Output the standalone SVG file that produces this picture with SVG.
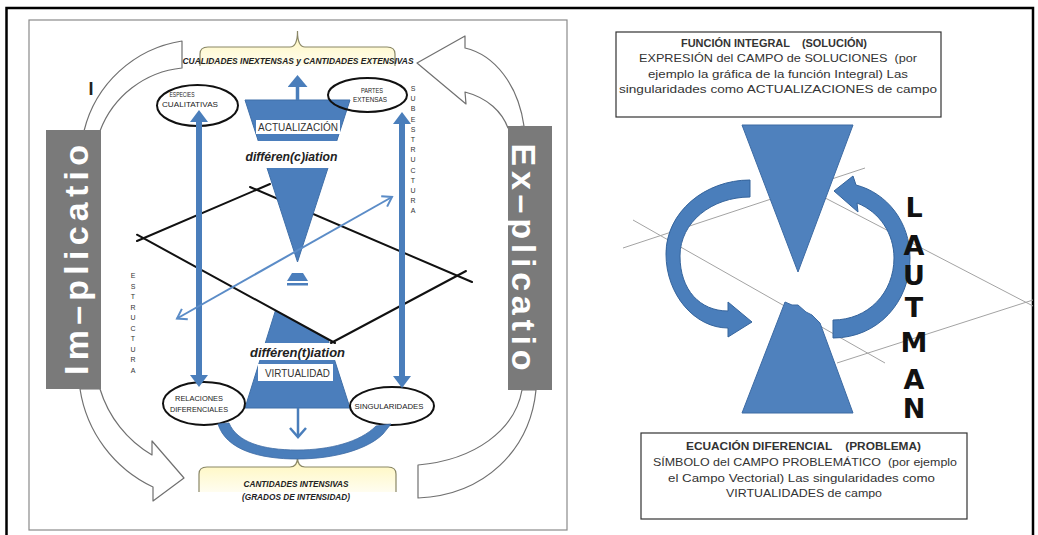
<svg xmlns="http://www.w3.org/2000/svg" width="1038" height="535" viewBox="0 0 1038 535">
  <defs>
    <style>
      .sans { font-family: "Liberation Sans", Arial, sans-serif; }
      .lbl { font-family: "Liberation Sans", Arial, sans-serif; font-size: 8px; fill: #222; text-anchor: middle; }
      .brace-txt { font-family: "Liberation Sans", Arial, sans-serif; font-weight: bold; font-style: italic; font-size: 8.5px; fill: #222; text-anchor: middle; }
      .oval { fill: none; stroke: #111; stroke-width: 2; }
      .funnel { fill: #4b7ebc; stroke: #3f6fa8; stroke-width: 1; }
      .band { fill: #fff; }
      .band-txt { font-family: "Liberation Sans", Arial, sans-serif; font-size: 11px; fill: #333; text-anchor: middle; }
      .diff { font-family: "Liberation Sans", Arial, sans-serif; font-size: 12.5px; font-weight: bold; font-style: italic; fill: #222; text-anchor: middle; }
      .gbox { fill: #7a7a7a; }
      .gtxt { font-family: "Liberation Sans", Arial, sans-serif; font-weight: bold; font-size: 34px; fill: #fff; text-anchor: middle; }
      .hollow { fill: #fff; stroke: #707070; stroke-width: 1.2; stroke-linejoin: round; }
      .brace { fill: url(#cream); stroke: #8a8766; stroke-width: 1.2; }
      .vert { font-family: "Liberation Sans", Arial, sans-serif; font-size: 7px; fill: #333; text-anchor: middle; }
      .axis { stroke: #111; stroke-width: 2; fill: none; stroke-linecap: round; }
      .thin { stroke: #a3a3a3; stroke-width: 1; fill: none; }
      .box { fill: #fff; stroke: #333; stroke-width: 1.2; }
      .btxt { font-family: "Liberation Sans", Arial, sans-serif; font-size: 11.5px; fill: #333; text-anchor: middle; }
      .bold { font-weight: bold; }
      .tri { fill: #4f81bd; stroke: #3c6aa3; stroke-width: 1; }
      .curl { fill: #4a7ebb; stroke: #35649c; stroke-width: 1; }
      .lautman { font-family: "DejaVu Sans", sans-serif; font-weight: bold; font-size: 27px; fill: #111; text-anchor: middle; }
      .shaft { stroke: #4a7ebb; fill: none; }
    </style>
    <linearGradient id="cream" x1="0" y1="0" x2="0" y2="1">
      <stop offset="0" stop-color="#fff6b8"/>
      <stop offset="1" stop-color="#fffdf0"/>
    </linearGradient>
    <marker id="hd-thick" viewBox="0 0 12 18" refX="1" refY="9" markerWidth="12" markerHeight="18" markerUnits="userSpaceOnUse" orient="auto-start-reverse">
      <path d="M0,0 L12,9 L0,18 Z" fill="#4a7ebb"/>
    </marker>
    <marker id="hd-mid" viewBox="0 0 12 20" refX="1" refY="10" markerWidth="12" markerHeight="20" markerUnits="userSpaceOnUse" orient="auto">
      <path d="M0,0 L12,10 L0,20 Z" fill="#4a7ebb"/>
    </marker>
    <marker id="hd-open" viewBox="0 0 12 18" refX="10" refY="9" markerWidth="12" markerHeight="18" markerUnits="userSpaceOnUse" orient="auto">
      <path d="M1,1 L10,9 L1,17" fill="none" stroke="#4a7ebb" stroke-width="2.5"/>
    </marker>
    <marker id="hd-open-s" viewBox="0 0 12 14" refX="10" refY="7" markerWidth="12" markerHeight="14" markerUnits="userSpaceOnUse" orient="auto-start-reverse">
      <path d="M1,1 L10,7 L1,13" fill="none" stroke="#5b8cc7" stroke-width="2"/>
    </marker>
  </defs>

  <rect width="1038" height="535" fill="#fff"/>
  <!-- outer frame -->
  <path d="M6.5,537 L6.5,8 L1033,8 L1033,537" fill="none" stroke="#000" stroke-width="2.5"/>

  <!-- ===== left panel ===== -->
  <rect x="29" y="20" width="538" height="510" fill="none" stroke="#8a8a8a" stroke-width="1.2"/>

  <!-- big hollow circulation arrows -->
  <g id="cycle-arrows">
    <path class="hollow" d="M182,41 A120,120 0 0 0 84,131 L100,131 A98,98 0 0 1 182,68 Z"/>
    <path class="hollow" d="M80,389 A130,130 0 0 0 153,487 L153,501 L184,478 L152,441 L152,455 A115,115 0 0 1 100,389 Z"/>
    <path class="hollow" d="M508,128 C502,112 488,98 465,92 L466,104 L417,63 L465,36 L465,48 C495,55 518,85 524,126 Z"/>
    <path class="hollow" d="M522,390 C515,430 475,460 418,465 L418,498 C485,495 530,450 536,390 Z"/>
  </g>

  <g id="implicatio">
    <rect class="gbox" x="46" y="130" width="55" height="259"/>
    <text class="gtxt" transform="translate(88,260) rotate(-90)" textLength="230" lengthAdjust="spacing">Im–plicatio</text>
  </g>
  <g id="explicatio">
    <rect class="gbox" x="508" y="126" width="44" height="264"/>
    <text class="gtxt" transform="translate(512,257) rotate(90)" textLength="227" lengthAdjust="spacing">Ex–plicatio</text>
  </g>

  <text class="sans" x="91" y="95" font-size="18" font-weight="bold" text-anchor="middle" fill="#222">I</text>

  <!-- upper brace -->
  <g id="cualidades">
    <path class="brace" d="M200,66 L200,54 Q200,47 208,47 L290,47 Q297.5,47 297.5,31 Q297.5,47 305,47 L387,47 Q395,47 395,54 L395,66"/>
    <text class="brace-txt" x="298" y="64" textLength="231" lengthAdjust="spacingAndGlyphs">CUALIDADES INEXTENSAS y CANTIDADES EXTENSIVAS</text>
  </g>

  <!-- lower brace -->
  <g id="cantidades">
    <path class="brace" d="M199,492 L199,474 Q199,467 207,467 L290,467 Q297.5,467 297.5,457 Q297.5,467 305,467 L388,467 Q396,467 396,474 L396,492"/>
    <text class="brace-txt" x="296" y="487" textLength="105" lengthAdjust="spacingAndGlyphs">CANTIDADES INTENSIVAS</text>
    <text class="brace-txt" x="296" y="500" textLength="108" lengthAdjust="spacingAndGlyphs">(GRADOS DE INTENSIDAD)</text>
  </g>

  <!-- structure texts -->
  <text class="vert" id="estructura">
    <tspan x="133" y="278">E</tspan><tspan x="133" y="288.6">S</tspan><tspan x="133" y="299.1">T</tspan><tspan x="133" y="309.7">R</tspan><tspan x="133" y="320.2">U</tspan><tspan x="133" y="330.8">C</tspan><tspan x="133" y="341.3">T</tspan><tspan x="133" y="351.9">U</tspan><tspan x="133" y="362.4">R</tspan><tspan x="133" y="373">A</tspan>
  </text>
  <text class="vert" id="subestructura">
    <tspan x="413" y="91">S</tspan><tspan x="413" y="101.2">U</tspan><tspan x="413" y="111.4">B</tspan><tspan x="413" y="121.6">E</tspan><tspan x="413" y="131.8">S</tspan><tspan x="413" y="142">T</tspan><tspan x="413" y="152.2">R</tspan><tspan x="413" y="162.4">U</tspan><tspan x="413" y="172.6">C</tspan><tspan x="413" y="182.8">T</tspan><tspan x="413" y="193">U</tspan><tspan x="413" y="203.2">R</tspan><tspan x="413" y="213.4">A</tspan>
  </text>

  <!-- lower funnel (virtual), clipped by the plane -->
  <g id="virtualidad">
    <polygon class="funnel" points="275.5,310.4 328,339.6 350,408 245,408"/>
    <rect class="band" x="238" y="343" width="120" height="17"/>
    <text class="diff" x="297.5" y="357" textLength="95" lengthAdjust="spacingAndGlyphs">différen(t)iation</text>
    <rect class="band" x="258" y="364" width="75" height="17"/>
    <text class="band-txt" x="297.5" y="377" textLength="65" lengthAdjust="spacingAndGlyphs">VIRTUALIDAD</text>
  </g>

  <!-- the plane -->
  <g id="plano">
    <path class="axis" d="M137,241 L270,184"/>
    <path class="axis" d="M137,234.7 L335,343"/>
    <path class="axis" d="M250,187 L472,282"/>
    <path class="axis" d="M331,343 L466,271"/>
  </g>

  <!-- upper funnel (actual) -->
  <g id="actualizacion">
    <polygon class="funnel" points="245,100 350,100 297.5,262"/>
    <rect class="band" x="238" y="141" width="120" height="27"/>
    <text class="diff" x="291.5" y="161" textLength="92" lengthAdjust="spacingAndGlyphs">différen(c)iation</text>
    <rect class="band" x="256" y="120" width="84" height="14"/>
    <text class="band-txt" x="298" y="131" textLength="80" lengthAdjust="spacingAndGlyphs">ACTUALIZACIÓN</text>
    <polygon fill="#4b7ebc" points="292,273 303,273 308,281 287,281"/>
    <rect fill="#4b7ebc" x="287" y="283" width="21" height="2.5"/>
  </g>

  <!-- nodes -->
  <g id="especies">
    <ellipse class="oval" cx="197.5" cy="105.5" rx="40.5" ry="20.5"/>
    <text class="lbl" x="182" y="97" textLength="25" lengthAdjust="spacingAndGlyphs">ESPECIES</text>
    <text class="lbl" x="190" y="107" textLength="56" lengthAdjust="spacingAndGlyphs">CUALITATIVAS</text>
  </g>
  <g id="partes">
    <ellipse class="oval" cx="367.5" cy="95" rx="39.5" ry="17"/>
    <text class="lbl" x="372" y="93" textLength="22" lengthAdjust="spacingAndGlyphs">PARTES</text>
    <text class="lbl" x="370" y="101.5" textLength="34" lengthAdjust="spacingAndGlyphs">EXTENSAS</text>
  </g>
  <g id="relaciones">
    <ellipse class="oval" cx="204" cy="403.5" rx="41" ry="21.5"/>
    <text class="lbl" x="199" y="400.5" textLength="48" lengthAdjust="spacingAndGlyphs">RELACIONES</text>
    <text class="lbl" x="199" y="411.5" textLength="58" lengthAdjust="spacingAndGlyphs">DIFERENCIALES</text>
  </g>
  <g id="singularidades">
    <ellipse class="oval" cx="392" cy="406" rx="42" ry="19"/>
    <text class="lbl" x="389" y="409" textLength="69" lengthAdjust="spacingAndGlyphs">SINGULARIDADES</text>
  </g>

  <!-- connectors -->
  <g id="connectors">
    <line class="shaft" x1="199" y1="121" x2="199" y2="376" stroke-width="6" marker-start="url(#hd-thick)" marker-end="url(#hd-thick)"/>
    <line class="shaft" x1="402" y1="123" x2="402" y2="377" stroke-width="6" marker-start="url(#hd-thick)" marker-end="url(#hd-thick)"/>
    <line class="shaft" x1="297.5" y1="100" x2="297.5" y2="86" stroke-width="3.5" marker-end="url(#hd-mid)"/>
    <line class="shaft" x1="298" y1="408" x2="298" y2="437" stroke-width="2.5" marker-end="url(#hd-open)"/>
    <line x1="177" y1="318.5" x2="392" y2="197" stroke="#5b8cc7" stroke-width="2" marker-start="url(#hd-open-s)" marker-end="url(#hd-open-s)"/>
    <path fill="#4a7ebb" stroke="#3d6ba5" stroke-width="0.8" d="M218,424 C226,450 260,459 297,459 C335,459 368,449 383,434 L391,424 L376,426 C360,442 330,450 297,450 C262,450 237,442 229,423 Z"/>
  </g>

  <!-- ===== right panel ===== -->
  <g id="campo">
    <path class="thin" d="M623,248 L865,168"/>
    <path class="thin" d="M633,220 L885,363"/>
    <path class="thin" d="M806,188 L1033,306"/>
    <path class="thin" d="M837,363 L1033,300"/>
  </g>

  <g id="funcion-integral">
    <rect class="box" x="616" y="32" width="325" height="85"/>
    <text class="btxt bold" x="774" y="47" textLength="186" lengthAdjust="spacingAndGlyphs" xml:space="preserve">FUNCIÓN INTEGRAL    (SOLUCIÓN)</text>
    <text class="btxt" x="778" y="62" textLength="278" lengthAdjust="spacingAndGlyphs" xml:space="preserve">EXPRESIÓN del CAMPO de SOLUCIONES  (por</text>
    <text class="btxt" x="778" y="77.5" textLength="260" lengthAdjust="spacingAndGlyphs">ejemplo la gráfica de la función Integral) Las</text>
    <text class="btxt" x="778" y="93" textLength="318" lengthAdjust="spacingAndGlyphs">singularidades como ACTUALIZACIONES de campo</text>
  </g>

  <g id="solucion">
    <polygon class="tri" points="742,125 853,125 798,272"/>
  </g>
  <g id="problema">
    <polygon class="tri" points="785,302 792,305 798,305 806,312 812,315 820,323 853,413 742,413"/>
  </g>

  <g id="giro">
    <path class="curl" d="M750,180 C705,180 666,212 666,254 C666,295 695,328 728,328 L728,337 L752,322 L728,302 L728,311 C700,311 680,290 680,256 C680,222 712,197 750,197 Z"/>
    <path class="curl" d="M833,338 C878,338 910,302 910,258 C910,222 887,193 856,185 L853,176 L834,191 L858,212 L857,203 C880,212 894,234 894,258 C894,293 868,320 833,320 Z"/>
  </g>

  <text class="lautman" id="lautman">
    <tspan x="914" y="217">L</tspan><tspan x="914" y="255">A</tspan><tspan x="914" y="285">U</tspan><tspan x="914" y="317">T</tspan><tspan x="914" y="352">M</tspan><tspan x="914" y="389">A</tspan><tspan x="914" y="418">N</tspan>
  </text>

  <g id="ecuacion-diferencial">
    <rect class="box" x="641" y="433" width="326" height="86"/>
    <text class="btxt bold" x="803.5" y="450" textLength="235" lengthAdjust="spacingAndGlyphs" xml:space="preserve">ECUACIÓN DIFERENCIAL    (PROBLEMA)</text>
    <text class="btxt" x="805" y="466" textLength="304" lengthAdjust="spacingAndGlyphs" xml:space="preserve">SÍMBOLO del CAMPO PROBLEMÁTICO  (por ejemplo</text>
    <text class="btxt" x="801.5" y="481.5" textLength="267" lengthAdjust="spacingAndGlyphs">el Campo Vectorial) Las singularidades como</text>
    <text class="btxt" x="804" y="497" textLength="156" lengthAdjust="spacingAndGlyphs">VIRTUALIDADES de campo</text>
  </g>
</svg>
